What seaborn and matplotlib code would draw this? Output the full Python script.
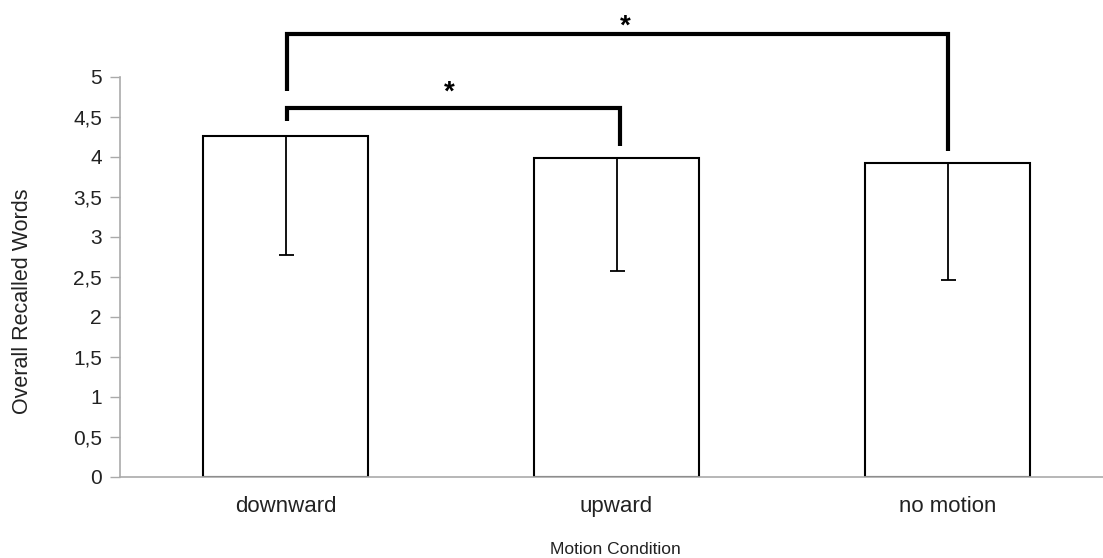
import matplotlib
matplotlib.use("Agg")
import matplotlib.pyplot as plt
import seaborn as sns
import pandas as pd
import numpy as np

categories = ["downward", "upward", "no motion"]
means = [4.26, 3.99, 3.93]
lower_err = [1.49, 1.41, 1.47]
y_ticks = [0, 0.5, 1, 1.5, 2, 2.5, 3, 3.5, 4, 4.5, 5]
y_tick_labels = ["0", "0,5", "1", "1,5", "2", "2,5", "3", "3,5", "4", "4,5", "5"]
# significance brackets: (left cat, right cat, top y, left foot y, right foot y)
brackets = [(0, 1, 4.61, 4.45, 4.14), (0, 2, 5.54, 4.83, 4.08)]
sig_labels = ["*", "*"]

sns.set_theme(style="white")
plt.rcParams["font.family"] = ["Liberation Sans", "DejaVu Sans"]

df = pd.DataFrame({"cond": categories, "mean": means})

fig = plt.figure(figsize=(11.03, 5.58), dpi=100)
ax = fig.add_axes([120/1103, 81/558, 993/1103, 400/558])

sns.barplot(data=df, x="cond", y="mean", order=categories, color="white",
            edgecolor="black", linewidth=1.5, width=0.5, errorbar=None, ax=ax,
            saturation=1)

xs = np.arange(len(categories))
ax.errorbar(xs, means, yerr=[lower_err, [0]*len(means)], fmt="none",
            ecolor="black", elinewidth=1.3, capsize=5.4, capthick=1.3)

ax.set_xlim(-0.5, 2.5)
ax.set_ylim(0, 5)
ax.set_yticks(y_ticks)
ax.set_yticklabels(y_tick_labels, fontsize=15, color="#222222")
ax.set_xticks(xs)
ax.set_xticklabels(categories, fontsize=16, color="#222222")
ax.set_xticks([-0.5, 0.5, 1.5, 2.5], minor=True)
ax.tick_params(axis="x", which="major", length=0, pad=14)
ax.tick_params(axis="x", which="minor", length=8, color="#aaaaaa", width=1, direction="out")
ax.tick_params(axis="y", length=7, color="#aaaaaa", width=1, direction="out", pad=6, left=True)

ax.set_xlabel("Motion Condition", fontsize=12.5, color="#222222")
ax.xaxis.set_label_coords(0.4985, -0.163)
ax.set_ylabel("Overall Recalled Words", fontsize=15.5, color="#222222")
ax.yaxis.set_label_coords(-0.088, 0.44)

for s in ["top", "right"]:
    ax.spines[s].set_visible(False)
for s in ["left", "bottom"]:
    ax.spines[s].set_color("#aaaaaa")
    ax.spines[s].set_linewidth(1.2)

star_pos = [(0.494, 4.80), (1.026, 5.63)]
for (x0, x1, ytop, yl, yr), lab, (sx, sy) in zip(brackets, sig_labels, star_pos):
    xa = x0 + 0.005
    xb = x1 + (0.01 if x1 == 1 else 0.0)
    ax.plot([xa, xa, xb, xb], [yl, ytop, ytop, yr], color="black", lw=3,
            clip_on=False, solid_joinstyle="miter", solid_capstyle="butt")
    ax.text(sx, sy, lab, ha="center", va="center", fontsize=20,
            fontweight="bold", color="black", clip_on=False)

fig.savefig("out.png", dpi=100)
